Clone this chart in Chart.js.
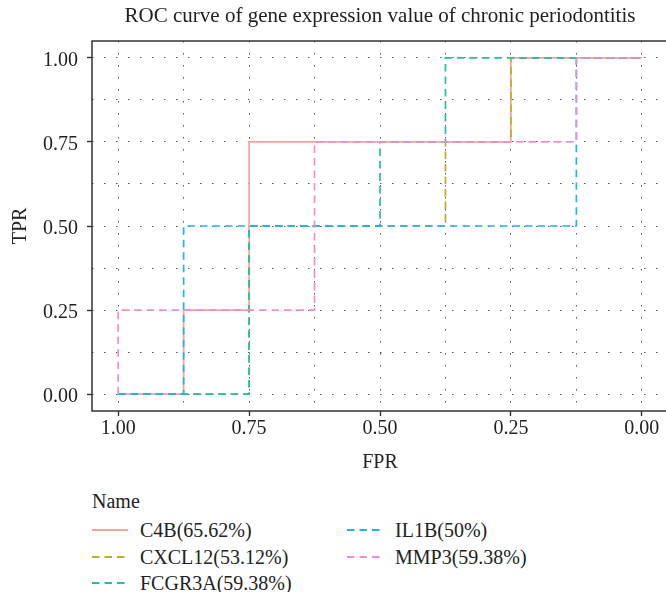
<!DOCTYPE html>
<html>
<head>
<meta charset="utf-8">
<script src="https://cdn.jsdelivr.net/npm/chart.js@4.4.1/dist/chart.umd.min.js"></script>
<style>
  html, body { margin: 0; padding: 0; background: #fff; overflow: hidden; }
  #wrap { position: relative; width: 672px; height: 592px; }
  #roc { position: absolute; left: 0; top: 0; }
  .legend-title, .legend-item {
    position: absolute;
    font-family: 'Liberation Serif', 'DejaVu Serif', serif;
    font-size: 20px;
    line-height: 24px;
    color: #222;
    white-space: nowrap;
  }
  .legend-item { display: flex; align-items: center; height: 24px; }
  .legend-item svg { margin-right: 12px; }
</style>
</head>
<body>
<div id="wrap">
  <canvas id="roc" width="672" height="480"></canvas>
  <div id="legend"></div>
</div>
<script>
// ROC points (specificity on the reversed axis, sensitivity up)
const names = ['C4B', 'CXCL12', 'FCGR3A', 'IL1B', 'MMP3']
const aucText = ['65.62%', '53.12%', '59.38%', '50%', '59.38%']

const c4bSpec = [1, 0.875, 0.875, 0.75, 0.75, 0.25, 0.25, 0]
const c4bTpr = [0, 0, 0.25, 0.25, 0.75, 0.75, 1, 1]
const cxcl12Spec = [1, 0.75, 0.75, 0.375, 0.375, 0.25, 0.25, 0]
const cxcl12Tpr = [0, 0, 0.5, 0.5, 0.75, 0.75, 1, 1]
const fcgr3aSpec = [1, 0.75, 0.75, 0.5, 0.5, 0.375, 0.375, 0]
const fcgr3aTpr = [0, 0, 0.5, 0.5, 0.75, 0.75, 1, 1]
const il1bSpec = [1, 0.875, 0.875, 0.125, 0.125, 0]
const il1bTpr = [0, 0, 0.5, 0.5, 1, 1]
const mmp3Spec = [1, 1, 0.625, 0.625, 0.125, 0.125, 0]
const mmp3Tpr = [0, 0.25, 0.25, 0.75, 0.75, 1, 1]

const specs = [c4bSpec, cxcl12Spec, fcgr3aSpec, il1bSpec, mmp3Spec]
const tprs = [c4bTpr, cxcl12Tpr, fcgr3aTpr, il1bTpr, mmp3Tpr]

const gridSteps = [0, 0.125, 0.25, 0.375, 0.5, 0.625, 0.75, 0.875, 1]

const colors = ['#F6A39C', '#B9B022', '#22BFA2', '#1FB3E6', '#EE8DCB']
const dashes = [[], [7.5, 5], [7.5, 5], [7.5, 5], [7.5, 5]]

const serif = "'Liberation Serif', 'DejaVu Serif', serif"
const isMajor = v => Math.abs(v * 4 - Math.round(v * 4)) < 1e-9

const datasets = names.map((name, i) => ({
  label: name + '(' + aucText[i] + ')',
  data: specs[i].map((s, j) => ({ x: s, y: tprs[i][j] })),
  borderColor: colors[i],
  borderWidth: 1.7,
  borderDash: dashes[i],
  pointRadius: 0,
  fill: false,
  tension: 0,
  order: names.length - i
}))

// box around the plot panel
const panelBorder = {
  id: 'panelBorder',
  afterDatasetsDraw(chart) {
    const { ctx, chartArea: { left, top, right, bottom } } = chart
    ctx.save()
    ctx.strokeStyle = '#333'
    ctx.lineWidth = 1.5
    ctx.strokeRect(left, top, right - left, bottom - top)
    ctx.restore()
  }
}

function axisOpts(extra) {
  return Object.assign({
    type: 'linear',
    min: -0.05,
    max: 1.05,
    afterBuildTicks: s => { s.ticks = gridSteps.map(v => ({ value: v })) },
    ticks: {
      autoSkip: false,
      maxRotation: 0,
      color: '#222',
      font: { family: serif, size: 20 },
      callback: v => isMajor(v) ? v.toFixed(2) : ''
    },
    grid: {
      color: '#555',
      lineWidth: 1,
      tickLength: 5,
      tickWidth: 1.4,
      tickColor: c => isMajor(c.tick.value) ? '#333' : 'rgba(0,0,0,0)'
    },
    border: { display: false, dash: [1.5, 10.5] }
  }, extra)
}

const xAxis = axisOpts({
  reverse: true,
  afterFit: s => { s.height = 69 },
  title: { display: true, text: 'FPR', color: '#222', font: { family: serif, size: 20 }, padding: { top: 0, bottom: 5 } }
})
xAxis.ticks.padding = 1

const yAxis = axisOpts({
  afterFit: s => { s.width = 92 },
  title: { display: true, text: 'TPR', color: '#222', font: { family: serif, size: 20 }, padding: { top: 9, bottom: 0 } }
})
yAxis.ticks.padding = 9
yAxis.ticks.labelOffset = 3

var ctxRoc = document.getElementById('roc').getContext('2d')
var rocChart = new Chart(ctxRoc, {
  type: 'line',
  data: { datasets: datasets },
  options: {
    responsive: false,
    animation: false,
    layout: { padding: { left: 0, right: 4, top: 0, bottom: 0 } },
    scales: { x: xAxis, y: yAxis },
    plugins: {
      legend: { display: false },
      tooltip: { enabled: false },
      title: {
        display: true,
        fullSize: false,
        text: 'ROC curve of gene expression value of chronic periodontitis',
        color: '#222',
        font: { family: serif, size: 21, weight: 'normal' },
        padding: { top: 4, bottom: 11.8 }
      }
    }
  },
  plugins: [panelBorder]
})

// legend below the chart, two columns filled top-down
var legend = document.getElementById('legend')
var head = document.createElement('div')
head.className = 'legend-title'
head.style.left = '92px'
head.style.top = '489px'
head.textContent = 'Name'
legend.appendChild(head)

names.forEach((name, i) => {
  const col = Math.floor(i / 3)
  const row = i % 3
  const item = document.createElement('div')
  item.className = 'legend-item'
  item.style.left = (col === 0 ? 92 : 347) + 'px'
  item.style.top = (518 + row * 26.6) + 'px'
  const dash = dashes[i].length ? 'stroke-dasharray="' + dashes[i].join(' ') + '"' : ''
  item.innerHTML =
    '<svg width="36" height="10"><line x1="0" y1="5" x2="36" y2="5" stroke="' + colors[i] +
    '" stroke-width="1.8" ' + dash + '/></svg><span>' + datasets[i].label + '</span>'
  legend.appendChild(item)
})
</script>
</body>
</html>
